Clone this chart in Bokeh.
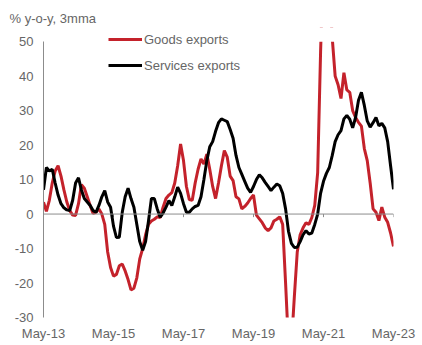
from bokeh.plotting import figure
from bokeh.models import Legend, LegendItem, Span, FixedTicker, Title
from bokeh.embed import file_html
from bokeh.resources import INLINE

# months since May-2013 (0 = May-13 ... 120 = May-23)
tick_positions = [0, 24, 48, 72, 96, 120]
tick_labels = ["May-13", "May-15", "May-17", "May-19", "May-21", "May-23"]
y_ticks = [-30, -20, -10, 0, 10, 20, 30, 40, 50]
y_tick_labels = ["-30", "-20", "-10", "0", "10", "20", "30", "40", "50"]
y_min, y_max = -30, 50

goods_exports = [
    3.4, 0.8, 4, 9, 12.5, 14, 11, 7, 3.5, 1, -0.3, -0.4,
    3, 8.5, 7.5, 5, 2.5, 0.2, 0.5, 1.5, 0, -3, -11, -15.5,
    -18, -17.5, -15, -14.5, -16.5, -19, -22, -21.5, -18.5, -13, -10, -6,
    -3, -2, -1.5, -0.8, -1, 2, 4.5, 5.5, 6.2, 9, 14, 20.3,
    15.5, 8, 4.2, 4, 9, 13, 16, 14.5, 17.4, 13, 8, 4.5,
    9, 14, 18.4, 16.5, 11, 9.7, 5, 4.4, 1.5, 2.2, 3.2, 4.5,
    5.5, -0.3, -1.4, -2.5, -4, -4.8, -4, -2, -1.5, -0.8, -3, -20,
    -38, -38, -24, -11, -6, -4, -2.5, -3, -1, 2.5, 12, 47,
    75, 78, 66, 51, 40, 37.5, 33.5, 41, 36, 35.3, 30, 28,
    26.6, 25.5, 19, 15.5, 9, 1.5, 0.5, -1.9, 2, -0.9, -2.4, -5.5,
    -9.4,
]

services_exports = [
    7, 13.5, 12.5, 13, 9, 5.5, 3, 1.8, 1.2, 1, 4, 9,
    10.5, 7, 4.5, 3.5, 2.5, 1, 0.5, 2.5, 5, 6.8, 3.5, 2,
    -3.5, -6.8, -6.7, 0.5, 5, 7.5, 4.5, 2, -3, -8, -10.5, -8,
    -2, 4.5, 4.5, 1.5, -0.9, 0.3, 2, 3.9, 2.5, 5, 7.8, 6,
    3, 0.5, 0.5, 1.5, 2.2, 2.5, 5, 10, 15.5, 19.5, 21, 24,
    26.5, 27.6, 27.2, 26.8, 24.5, 22, 17, 13.5, 11.5, 9.5, 7.5, 6.3,
    8, 10, 11.4, 10.5, 9.2, 8, 6.8, 7.8, 8.7, 8.2, 6, 1.5,
    -5, -8.5, -9.7, -9.6, -8, -6, -4.8, -5.8, -5.5, -3, 0, 6,
    9.5, 11.8, 13.5, 17, 21, 23, 24.2, 27.6, 28.6, 27.5, 25, 28,
    33, 35.3, 31.5, 27, 25.2, 26.5, 28, 25.6, 26.3, 25, 21, 14,
    7.2,
]

months = list(range(len(goods_exports)))

FONT = "Liberation Sans"
GREY = "#666666"
AXIS_GREY = "#8c8c8c"
RED = "#C4222B"

# frame extends a little above the 50 line so the legend is not clipped
y_top = 54.1

p = figure(width=422, height=345, output_backend="svg", toolbar_location=None,
           x_range=(0, 120), y_range=(y_min, y_top),
           min_border_left=43, min_border_right=29, min_border_bottom=28,
           min_border_top=27)
p.outline_line_color = None
p.xgrid.visible = False
p.ygrid.visible = False
p.background_fill_color = "white"
p.border_fill_color = "white"

p.title = Title(text="% y-o-y, 3mma", align="left", offset=-34,
                text_font=FONT, text_font_size="13px", text_font_style="normal",
                text_color=GREY, standoff=4)

zero = Span(location=0, dimension="width", line_color=AXIS_GREY, line_width=1)
p.add_layout(zero)

# small tick marks on the zero line at tick positions
p.segment(x0=tick_positions, y0=[0] * len(tick_positions),
          x1=tick_positions, y1=[-0.9] * len(tick_positions),
          line_color=AXIS_GREY, line_width=1)

r_goods = p.line(months, goods_exports, line_color=RED, line_width=3)
r_serv = p.line(months, services_exports, line_color="black", line_width=3)

# white mask above the top of the value axis (lines are cut at 50)
p.quad(left=[-5], right=[125], bottom=[y_max], top=[y_top + 5],
       fill_color="white", line_color=None)

xa = p.xaxis[0]
xa.ticker = FixedTicker(ticks=tick_positions)
xa.major_label_overrides = {t: l for t, l in zip(tick_positions, tick_labels)}
xa.axis_line_color = None
xa.major_tick_line_color = None
xa.minor_tick_line_color = None
xa.major_tick_out = 0
xa.major_tick_in = 0
xa.major_label_standoff = 8
xa.major_label_text_font = FONT
xa.major_label_text_font_size = "13px"
xa.major_label_text_color = GREY

ya = p.yaxis[0]
ya.ticker = FixedTicker(ticks=y_ticks)
ya.major_label_overrides = {t: l for t, l in zip(y_ticks, y_tick_labels)}
ya.bounds = (y_min, y_max)
ya.axis_line_color = AXIS_GREY
ya.major_tick_line_color = None
ya.minor_tick_line_color = None
ya.major_tick_out = 0
ya.major_tick_in = 0
ya.major_label_standoff = 10
ya.major_label_text_font = FONT
ya.major_label_text_font_size = "13px"
ya.major_label_text_color = GREY

legend = Legend(items=[LegendItem(label="Goods exports", renderers=[r_goods]),
                       LegendItem(label="Services exports", renderers=[r_serv])],
                location=(65, 242), margin=0, padding=0, spacing=6,
                glyph_width=34, glyph_height=20, label_height=20,
                label_standoff=2, label_text_font=FONT,
                label_text_font_size="13px", label_text_color=GREY,
                background_fill_alpha=0, border_line_color=None)
p.add_layout(legend)

open("out.html", "w").write(file_html(p, INLINE))
